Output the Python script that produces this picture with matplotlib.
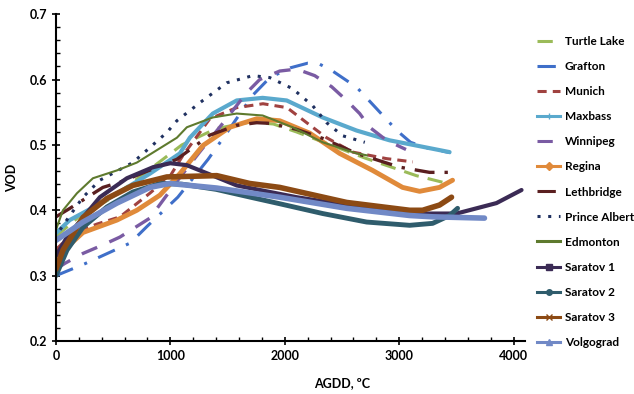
import matplotlib.pyplot as plt
from matplotlib.lines import Line2D
from matplotlib.ticker import MultipleLocator, FormatStrFormatter

plt.rcParams['font.family'] = ['Lato', 'DejaVu Sans']
plt.rcParams['font.weight'] = 'bold'

# AGDD (x) and VOD (y)
turtle_x = [0, 200, 500, 800, 1100, 1400, 1700, 1900, 2100, 2400, 2700, 2950, 3150, 3400]
turtle_y = [0.36, 0.39, 0.42, 0.46, 0.50, 0.525, 0.535, 0.532, 0.52, 0.50, 0.48, 0.465, 0.453, 0.442]

grafton_x = [0, 250, 650, 800, 1065, 1330, 1480, 1720, 1870, 2050, 2200, 2300, 2410, 2630, 2800, 2980, 3100, 3250, 3450]
grafton_y = [0.30, 0.318, 0.35, 0.376, 0.42, 0.478, 0.515, 0.576, 0.603, 0.618, 0.625, 0.624, 0.614, 0.588, 0.556, 0.522, 0.504, 0.495, 0.488]

munich_x = [0, 150, 360, 560, 820, 1000, 1110, 1345, 1580, 1810, 2020, 2244, 2366, 2594, 2890, 3030, 3120]
munich_y = [0.34, 0.365, 0.379, 0.39, 0.426, 0.453, 0.484, 0.54, 0.557, 0.563, 0.557, 0.527, 0.511, 0.489, 0.479, 0.476, 0.474]

maxbass_x = [0, 120, 384, 821, 1083, 1170, 1371, 1580, 1807, 2017, 2332, 2628, 2917, 3152, 3441]
maxbass_y = [0.365, 0.385, 0.41, 0.456, 0.487, 0.511, 0.548, 0.568, 0.572, 0.568, 0.542, 0.522, 0.507, 0.499, 0.489]

winnipeg_x = [0, 80, 236, 410, 559, 821, 1065, 1260, 1458, 1668, 1781, 1956, 2104, 2262, 2410, 2541, 2655, 2742, 2890, 3060]
winnipeg_y = [0.31, 0.319, 0.334, 0.347, 0.359, 0.388, 0.446, 0.49, 0.533, 0.58, 0.60, 0.613, 0.616, 0.606, 0.589, 0.568, 0.548, 0.527, 0.507, 0.493]

regina_x = [0, 236, 533, 707, 908, 1083, 1284, 1519, 1755, 1956, 2218, 2480, 2768, 3030, 3179, 3353, 3467]
regina_y = [0.328, 0.366, 0.385, 0.40, 0.423, 0.456, 0.499, 0.527, 0.54, 0.537, 0.518, 0.487, 0.461, 0.435, 0.429, 0.435, 0.446]

leth_x = [0, 122, 410, 559, 800, 1057, 1345, 1580, 1755, 1869, 2100, 2332, 2628, 3004, 3266, 3450]
leth_y = [0.39, 0.403, 0.435, 0.443, 0.46, 0.478, 0.515, 0.53, 0.534, 0.533, 0.524, 0.51, 0.487, 0.466, 0.458, 0.458]

prince_x = [0, 35, 122, 236, 384, 672, 821, 969, 1057, 1284, 1493, 1720, 1869, 2069, 2244, 2366, 2506, 2700]
prince_y = [0.355, 0.37, 0.392, 0.42, 0.446, 0.473, 0.496, 0.519, 0.537, 0.568, 0.595, 0.606, 0.603, 0.586, 0.56, 0.534, 0.514, 0.504]

edmonton_x = [0, 30, 61, 183, 323, 533, 707, 882, 1057, 1144, 1371, 1580, 1807, 2069, 2332, 2628, 2720]
edmonton_y = [0.37, 0.385, 0.40, 0.426, 0.449, 0.461, 0.473, 0.492, 0.511, 0.527, 0.542, 0.548, 0.545, 0.527, 0.504, 0.487, 0.484]

sar1_x = [0, 100, 384, 620, 850, 1000, 1144, 1371, 1580, 1869, 2104, 2541, 3092, 3502, 3851, 4070]
sar1_y = [0.33, 0.36, 0.42, 0.449, 0.466, 0.472, 0.469, 0.453, 0.438, 0.428, 0.42, 0.408, 0.395, 0.395, 0.411, 0.431]

sar2_x = [0, 96, 236, 445, 672, 908, 1100, 1400, 1700, 1956, 2332, 2716, 3092, 3293, 3441, 3511]
sar2_y = [0.30, 0.339, 0.374, 0.405, 0.428, 0.441, 0.44, 0.432, 0.42, 0.41, 0.395, 0.382, 0.377, 0.38, 0.392, 0.403]

sar3_x = [0, 61, 236, 445, 672, 969, 1406, 1694, 1956, 2541, 3092, 3205, 3353, 3458]
sar3_y = [0.31, 0.339, 0.389, 0.418, 0.438, 0.451, 0.453, 0.441, 0.435, 0.412, 0.40, 0.40, 0.408, 0.42]

volgo_x = [0, 236, 533, 821, 995, 1406, 1956, 2541, 3092, 3293, 3746]
volgo_y = [0.354, 0.382, 0.411, 0.435, 0.441, 0.434, 0.42, 0.403, 0.392, 0.39, 0.388]

names = ['Turtle Lake', 'Grafton', 'Munich', 'Maxbass', 'Winnipeg', 'Regina', 'Lethbridge',
         'Prince Albert', 'Edmonton', 'Saratov 1', 'Saratov 2', 'Saratov 3', 'Volgograd']
xs = [turtle_x, grafton_x, munich_x, maxbass_x, winnipeg_x, regina_x, leth_x,
      prince_x, edmonton_x, sar1_x, sar2_x, sar3_x, volgo_x]
ys = [turtle_y, grafton_y, munich_y, maxbass_y, winnipeg_y, regina_y, leth_y,
      prince_y, edmonton_y, sar1_y, sar2_y, sar3_y, volgo_y]

# colour, linestyle, linewidth, legend marker
styles = [
    ('#9BBB59', (0, (5, 3)), 2.2, None),
    ('#3F6FC9', (0, (6, 4, 1, 4)), 2.2, None),
    ('#A04240', (0, (3, 2)), 2.2, None),
    ('#5AA9CD', '-', 3.0, '+'),
    ('#7A5BA3', (0, (5, 4)), 2.4, None),
    ('#E08A3A', '-', 3.5, 'D'),
    ('#5A1F20', (0, (6, 3, 1, 3)), 2.4, None),
    ('#1F3060', (0, (1, 2.5)), 2.2, None),
    ('#5E7A2E', '-', 1.5, None),
    ('#3B2B55', '-', 3.0, 's'),
    ('#2F5C6C', '-', 3.5, 'o'),
    ('#8C4A14', '-', 4.0, 'x'),
    ('#7189C6', '-', 4.0, '^'),
]

fig = plt.figure(figsize=(6.34, 3.94), dpi=100)
ax = fig.add_axes([0.0883, 0.1345, 0.7397, 0.8295])

handles = []
for name, x, y, (c, ls, lw, mk) in zip(names, xs, ys, styles):
    ax.plot(x, y, color=c, linestyle=ls, linewidth=lw, solid_capstyle='round')
    handles.append(Line2D([], [], color=c, linestyle=ls, linewidth=2.2,
                          marker=mk, markersize=4, label=name))

ax.set_xlim(0, 4100)
ax.set_ylim(0.2, 0.7)
ax.xaxis.set_major_locator(MultipleLocator(1000))
ax.xaxis.set_minor_locator(MultipleLocator(200))
ax.yaxis.set_major_locator(MultipleLocator(0.1))
ax.yaxis.set_minor_locator(MultipleLocator(0.02))
ax.yaxis.set_major_formatter(FormatStrFormatter('%.1f'))
ax.tick_params(which='major', direction='inout', length=6, width=1.2, labelsize=9, colors='#000000')
ax.tick_params(which='minor', direction='in', length=3, width=1.0)
for lbl in ax.get_xticklabels() + ax.get_yticklabels():
    lbl.set_fontweight('bold')

for side in ['top', 'right']:
    ax.spines[side].set_visible(False)
for side in ['left', 'bottom']:
    ax.spines[side].set_linewidth(1.5)

ax.set_xlabel('AGDD, ºC', fontsize=9, fontweight='bold')
ax.xaxis.set_label_coords(0.61, -0.11)
ax.set_ylabel('VOD', fontsize=9, fontweight='bold')
ax.yaxis.set_label_coords(-0.08, 0.5)

fig.legend(handles=handles, loc='upper left', bbox_to_anchor=(0.831, 0.935),
           frameon=False, handlelength=1.9, handletextpad=0.4,
           labelspacing=1.19, prop={'weight': 'bold', 'size': 8.5})

fig.savefig('out.png', dpi=100)
